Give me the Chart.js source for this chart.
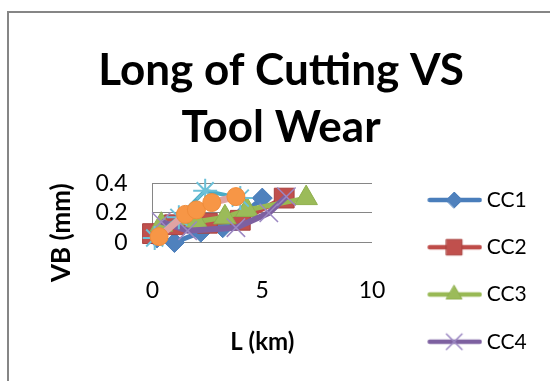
<!DOCTYPE html>
<html>
<head>
<meta charset="utf-8">
<script src="https://cdn.jsdelivr.net/npm/chart.js@4/dist/chart.umd.min.js"></script>
<style>
  html, body { margin: 0; padding: 0; overflow: hidden; background: #fff; width: 550px; height: 381px; }
  #wrap { position: absolute; left: 0; top: 0; width: 640px; height: 473px; }
</style>
</head>
<body>
<div id="wrap"><canvas id="c" width="640" height="473"></canvas></div>
<script>
// Long of cutting L (km) against flank wear VB (mm) for each cutting condition
const seriesNames = ['CC1', 'CC2', 'CC3', 'CC4', 'CC5', 'CC6'];

const cc1L  = [0.2, 1.0, 2.2, 3.2, 4.2, 5.0];
const cc1VB = [0.03, 0.00, 0.07, 0.10, 0.20, 0.30];

const cc2L  = [0.0, 1.0, 2.5, 4.0, 6.0];
const cc2VB = [0.06, 0.12, 0.13, 0.15, 0.30];

const cc3L  = [0.4, 2.0, 3.3, 4.3, 7.0];
const cc3VB = [0.12, 0.14, 0.17, 0.22, 0.30];

const cc4L  = [0.4, 1.6, 3.8, 5.3, 6.1];
const cc4VB = [0.14, 0.08, 0.10, 0.20, 0.31];

const cc5L  = [0.1, 1.2, 2.4, 4.0];
const cc5VB = [0.03, 0.17, 0.35, 0.30];

const cc6L  = [0.3, 1.5, 2.0, 2.7, 3.8];
const cc6VB = [0.04, 0.19, 0.22, 0.27, 0.31];

const xTickStep = 5;
const yTickStep = 0.2;

const FONT = 'Lato';
const LEGEND_SIZE = 21;
const LEGEND_PAD = 26.25;
const SWATCH_W = 78;

// per-series look: line colour, marker style and colours
const styles = [
  { line: '#4A7EBB', key: '#4A7EBB', style: 'rectRot',  r: 10, fill: '#4F81BD', edge: '#4A7EBB', bw: 1,   lw: 5, lr: 8 },
  { line: '#BE4B48', key: '#BE4B48', style: 'rect',     r: 14, fill: '#C0504D', edge: '#A8423F', bw: 1,   lw: 5, lr: 11 },
  { line: '#98B954', key: '#98B954', style: 'triangle', r: 13, fill: '#9BBB59', edge: '#8FAF4E', bw: 1,   lw: 5, lr: 9 },
  { line: '#7D60A0', key: '#7D60A0', style: 'crossRot', r: 13, fill: '#9B87C2', edge: '#9B87C2', bw: 1.5, lw: 6, lr: 11 },
  { line: '#4BACC6', key: '#4BACC6', style: 'star',     r: 12, fill: '#4BACC6', edge: '#6CC0D8', bw: 2,   lw: 4, lr: 7 },
  { line: '#E0A3A3', key: '#F79646', style: 'circle',   r: 9,  fill: '#F79646', edge: '#F08C3A', bw: 1,   lw: 7, lr: 7 }
];

const xs = [cc1L, cc2L, cc3L, cc4L, cc5L, cc6L];
const ys = [cc1VB, cc2VB, cc3VB, cc4VB, cc5VB, cc6VB];

const datasets = seriesNames.map((name, i) => ({
  label: name,
  data: xs[i].map((x, k) => ({ x: x, y: ys[i][k] })),
  showLine: true,
  borderColor: styles[i].line,
  borderWidth: styles[i].lw,
  pointStyle: styles[i].style,
  pointRadius: styles[i].r,
  pointBackgroundColor: styles[i].fill,
  pointBorderColor: styles[i].edge,
  pointBorderWidth: styles[i].bw,
  pointHoverRadius: styles[i].r,
  order: -i,
  clip: false
}));

// small line-with-marker swatches for the legend
function swatch(i) {
  const s = styles[i];
  const c = document.createElement('canvas');
  c.width = 90; c.height = 26;
  const g = c.getContext('2d');
  g.strokeStyle = s.key;
  g.lineWidth = 4.5;
  g.lineCap = 'round';
  g.beginPath(); g.moveTo(37.5, 13); g.lineTo(87.5, 13); g.stroke();
  g.fillStyle = s.fill;
  g.strokeStyle = s.edge;
  g.lineWidth = s.bw;
  Chart.helpers.drawPoint(g, { pointStyle: s.style, radius: s.lr, borderWidth: s.bw, rotation: 0 }, 62, 13);
  return c;
}
const swatches = seriesNames.map((_, i) => swatch(i));

// legend width as the library will measure it, so the plot keeps its right edge
const meas = document.createElement('canvas').getContext('2d');
meas.font = LEGEND_SIZE + 'px ' + FONT;
const labelW = Math.max(...seriesNames.map(n => meas.measureText(n).width));
const legendW = LEGEND_PAD + SWATCH_W + LEGEND_SIZE / 2 + labelW + 10;
const PLOT_LEFT = 152.5, PLOT_RIGHT = 372, TITLE_MID = 281, CANVAS_W = 640;
const padRight = CANVAS_W - PLOT_RIGHT - legendW;
const padLeft = 2 * TITLE_MID - PLOT_RIGHT - legendW;

const framePlugin = {
  id: 'frame',
  beforeDraw(chart) {
    const g = chart.ctx;
    g.save();
    g.fillStyle = '#fff';
    g.fillRect(0, 0, chart.width, chart.height);
    g.strokeStyle = '#868686';
    g.lineWidth = 2;
    g.strokeRect(8, 12, chart.width + 20, chart.height + 20);
    g.restore();
  }
};

new Chart(document.getElementById('c'), {
  type: 'scatter',
  data: { datasets: datasets },
  plugins: [framePlugin],
  options: {
    responsive: false,
    devicePixelRatio: 1,
    animation: false,
    events: [],
    layout: { padding: { left: padLeft, right: padRight, top: 0, bottom: 0 } },
    plugins: {
      title: {
        display: true,
        text: ['Long of Cutting VS', 'Tool Wear'],
        color: '#000',
        font: { family: FONT, size: 44, weight: 'bold', lineHeight: '57px' },
        padding: { top: 42, bottom: 27.3 }
      },
      legend: {
        display: true,
        position: 'right',
        align: 'end',
        maxWidth: 400,
        labels: {
          usePointStyle: true,
          pointStyleWidth: SWATCH_W,
          padding: LEGEND_PAD,
          color: '#000',
          font: { family: FONT, size: LEGEND_SIZE },
          sort: (a, b) => a.datasetIndex - b.datasetIndex,
          generateLabels(chart) {
            const items = Chart.defaults.plugins.legend.labels.generateLabels(chart);
            items.forEach(it => { it.pointStyle = swatches[it.datasetIndex]; });
            return items;
          }
        }
      },
      tooltip: { enabled: false }
    },
    scales: {
      x: {
        type: 'linear',
        min: 0, max: 10,
        afterFit(s) { s.height = 230.5; },
        grid: { display: false, drawTicks: false },
        border: { display: false },
        ticks: { stepSize: xTickStep, autoSkip: false, padding: 34.7, color: '#000', font: { family: FONT, size: 23 } },
        title: {
          display: true,
          text: 'L (km)',
          color: '#000',
          font: { family: FONT, size: 24, weight: 'bold' },
          padding: { top: 23.4, bottom: 116.6 }
        }
      },
      y: {
        type: 'linear',
        min: 0, max: 0.4,
        afterFit(s) { s.width = PLOT_LEFT - padLeft; },
        grid: { color: '#868686', lineWidth: 1, drawTicks: false },
        border: { display: true, color: '#868686', width: 1 },
        ticks: { stepSize: yTickStep, autoSkip: false, padding: 25, color: '#000', font: { family: FONT, size: 23 } },
        title: {
          display: true,
          text: 'VB (mm)',
          align: 'end',
          color: '#000',
          font: { family: FONT, size: 26, weight: 'bold' },
          padding: { top: 62 - padLeft - 15.6, bottom: 0 }
        }
      }
    }
  }
});
</script>
</body>
</html>
